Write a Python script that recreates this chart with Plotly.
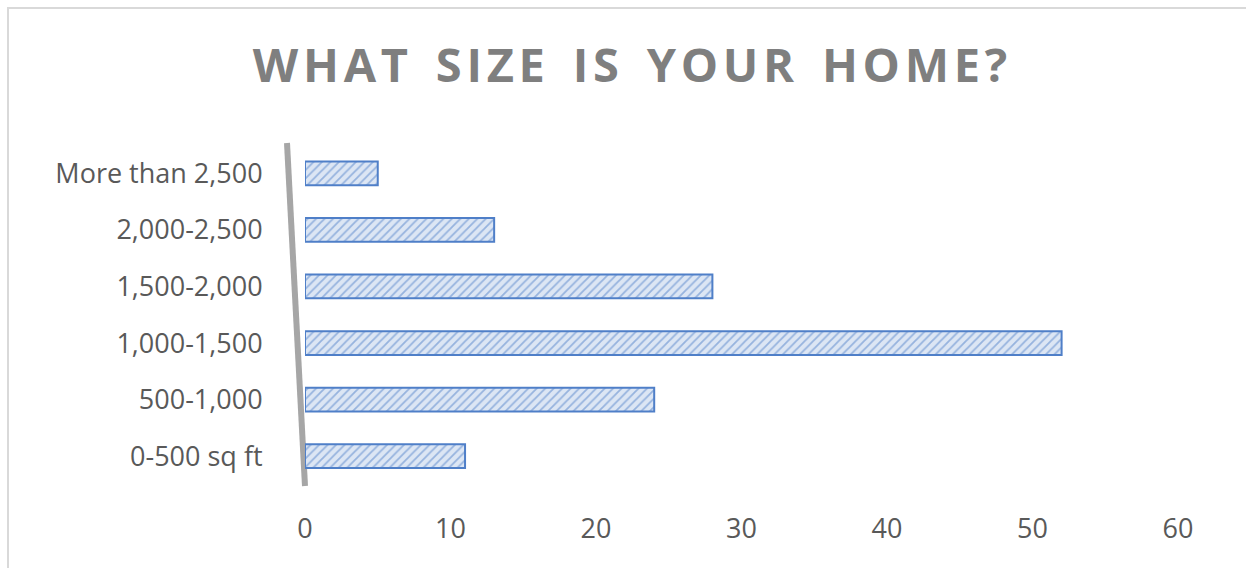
import plotly.graph_objects as go

categories = ["0-500 sq ft", "500-1,000", "1,000-1,500", "1,500-2,000", "2,000-2,500", "More than 2,500"]
values = [11, 24, 52, 28, 13, 5]
x_ticks = [0, 10, 20, 30, 40, 50, 60]

W, H = 1246, 568
L, R, T, B = 305, 68, 145, 58
pw = W - L - R
ph = H - T - B

fig = go.Figure()
fig.add_trace(go.Bar(
    y=categories, x=values, orientation="h",
    marker=dict(
        color="#dae3f3",
        line=dict(color="#4f7fc8", width=2),
        pattern=dict(shape="/", fgcolor="#4f7fc8", bgcolor="#dce6f4", size=6, solidity=0.3),
    ),
    width=0.42,
    hoverinfo="x+y",
))

def px_to_paper_x(p):
    return (p - L) / pw

def px_to_paper_y(p):
    return (H - B - p) / ph

fig.add_shape(type="rect", xref="paper", yref="paper",
              x0=px_to_paper_x(8), x1=px_to_paper_x(1260),
              y0=px_to_paper_y(580), y1=px_to_paper_y(8),
              line=dict(color="#d9d9d9", width=2), fillcolor="rgba(0,0,0,0)", layer="below")

# slanted grey vertical axis (3D perspective look)
fig.add_shape(type="line", xref="paper", yref="paper",
              x0=px_to_paper_x(305), y0=px_to_paper_y(486),
              x1=px_to_paper_x(287), y1=px_to_paper_y(143),
              line=dict(color="#a6a6a6", width=6), layer="below")

title_text = "\u200a".join("WHAT SIZE IS YOUR HOME?").replace("\u200a \u200a", "\u2009 \u2009")

fig.update_layout(
    width=W, height=H,
    margin=dict(l=L, r=R, t=T, b=B),
    paper_bgcolor="white", plot_bgcolor="rgba(0,0,0,0)",
    showlegend=False,
    title=dict(text="<b>" + title_text + "</b>",
               x=630 / W, xref="container", xanchor="center", y=1 - 66 / H, yref="container", yanchor="middle",
               font=dict(family="Open Sans, sans-serif", size=47, color="#7f7f7f")),
    font=dict(family="Open Sans, sans-serif", color="#595959"),
    xaxis=dict(range=[0, 60], tickvals=x_ticks, showgrid=False, zeroline=False,
               showline=False, tickfont=dict(size=27, color="#595959"),
               ticks="", ticklen=0),
    yaxis=dict(range=[-0.95, 5.5], categoryorder="array", categoryarray=categories,
               showgrid=False, zeroline=False, showline=False,
               tickfont=dict(size=27, color="#595959"),
               ticks="outside", ticklen=36, tickcolor="rgba(0,0,0,0)"),
)

fig.write_html("out.html")
